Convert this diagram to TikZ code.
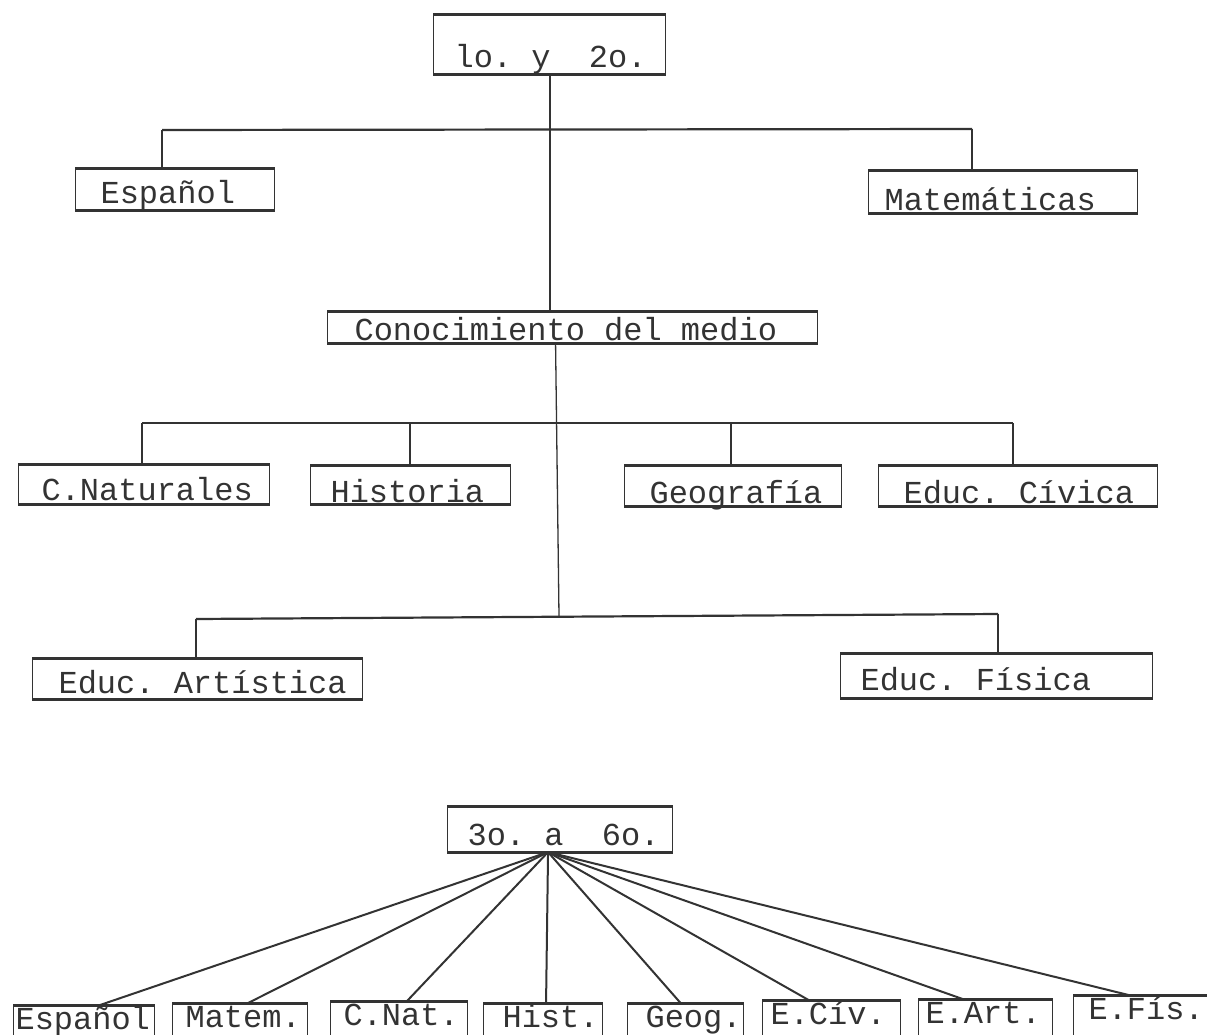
\documentclass[tikz,border=0pt]{standalone}
\usepackage{fontspec}
\setmonofont{Liberation Mono}
\usetikzlibrary{calc}
\definecolor{ink}{gray}{0.2}
\hfuzz=40pt
\frenchspacing

\begin{document}
\begin{tikzpicture}[x=1pt, y=-1pt]

        % Typed boxes: thin sides, heavy top and bottom rules
        \tikzset{
            box/.style={draw=ink, line width=1.1pt, anchor=north west,
                inner ysep=0pt, text depth=0pt, align=flush left, text=ink,
                font=\ttfamily\fontsize{32}{36}\selectfont},
            rule/.style={ink, line width=3pt},
            wire/.style={ink, line width=1.3pt},
            bus/.style={ink, line width=2.2pt},
            fan/.style={ink, line width=2pt},
        }

        \useasboundingbox (0,0) rectangle (1207,1035);
        \clip (0,0) rectangle (1207,1035);

        % First and second grade
        \node[box, text width=190pt, inner xsep=21pt, minimum height=58pt, text height=46pt] (G12) at (433,15) {lo.~y~~2o.};
        \node[box, text width=149pt, inner xsep=25pt, minimum height=40pt, text height=28pt] (Esp) at (75,169) {Español};
        \node[box, text width=237pt, inner xsep=16pt, minimum height=41pt, text height=37pt] (Mat) at (868,171) {Matemáticas};
        \node[box, text width=436pt, inner xsep=27pt, minimum height=31pt, text height=27pt] (Med) at (327,311) {Conocimiento~del~medio};

        \node[box, text width=205pt, inner xsep=23pt, minimum height=39pt, text height=33pt] (CNat) at (18,464) {C.Naturales};
        \node[box, text width=160pt, inner xsep=20pt, minimum height=38pt, text height=36pt] (Hist) at (310,465) {Historia};
        \node[box, text width=167pt, inner xsep=25pt, minimum height=40pt, text height=36pt] (Geo) at (624,465) {Geografía};
        \node[box, text width=229pt, inner xsep=25pt, minimum height=40pt, text height=36pt] (Civ) at (878,465) {Educ.~Cívica};

        \node[box, text width=278pt, inner xsep=26pt, minimum height=40pt, text height=30pt] (Art) at (32,658) {Educ.~Artística};
        \node[box, text width=272pt, inner xsep=20pt, minimum height=44pt, text height=30pt] (Fis) at (840,653) {Educ.~Física};

        % Third to sixth grade
        \node[box, text width=185pt, inner xsep=20pt, minimum height=45pt, text height=33pt] (G36) at (447,806) {3o.~a~~6o.};
        \node[box, text width=137pt, inner xsep=2pt, minimum height=45pt, text height=3pt] (B1) at (13,1005) {Español};
        \node[box, text width=109pt, inner xsep=13pt, minimum height=45pt, text height=3pt] (B2) at (172,1003) {Matem.};
        \node[box, text width=111pt, inner xsep=13pt, minimum height=45pt, text height=3pt] (B3) at (330,1001) {C.Nat.};
        \node[box, text width=81pt, inner xsep=19pt, minimum height=45pt, text height=3pt] (B4) at (483,1003) {Hist.};
        \node[box, text width=80pt, inner xsep=18pt, minimum height=45pt, text height=3pt] (B5) at (627,1003) {Geog.};
        \node[box, text width=122pt, inner xsep=8pt, minimum height=45pt, text height=3pt] (B6) at (762,1000) {E.Cív.};
        \node[box, text width=120pt, inner xsep=7pt, minimum height=45pt, text height=3pt] (B7) at (918,999) {E.Art.};
        \node[box, text width=110pt, inner xsep=15pt, minimum height=45pt, text height=3pt] (B8) at (1073,995) {E.Fís.};

        \foreach \n in {G12,Esp,Mat,Med,CNat,Hist,Geo,Civ,Art,Fis,G36,B1,B2,B3,B4,B5,B6,B7,B8}
            \draw[rule] (\n.north west) -- (\n.north east) (\n.south west) -- (\n.south east);

        % Bus junctions
        \coordinate (L1) at (162,130);
        \coordinate (R1) at (972,129);
        \coordinate (J1) at (550,130);
        \coordinate (L2) at (142,423);
        \coordinate (H2) at (410,423);
        \coordinate (G2) at (731,423);
        \coordinate (R2) at (1013,423);
        \coordinate (L3) at (196,619);
        \coordinate (J3) at (559,616);
        \coordinate (R3) at (998,614);

        \draw[bus] (L1) -- (R1);
        \draw[bus] (L2) -- (R2);
        \draw[bus] (L3) -- (R3);

        \draw[wire] (G12.south -| J1) -- (Med.north -| J1);
        \draw[wire] (L1) -- (Esp.north -| L1);
        \draw[wire] (R1) -- (Mat.north -| R1);
        \draw[wire] ([xshift=-17pt]Med.south) -- (J3);
        \draw[wire] (L2) -- (CNat.north -| L2);
        \draw[wire] (H2) -- (Hist.north -| H2);
        \draw[wire] (G2) -- (Geo.north -| G2);
        \draw[wire] (R2) -- (Civ.north -| R2);
        \draw[wire] (L3) -- (Art.north -| L3);
        \draw[wire] (R3) -- (Fis.north -| R3);

        % Fan from 3o. a 6o.
        \coordinate (F) at ([xshift=-12pt]G36.south);
        \foreach \n/\d in {B1/16,B2/8,B3/8,B4/3,B5/-5,B6/-23,B7/-23,B8/-15}
            \draw[fan] (F) -- ([xshift=\d pt]\n.north);

\end{tikzpicture}
\end{document}
